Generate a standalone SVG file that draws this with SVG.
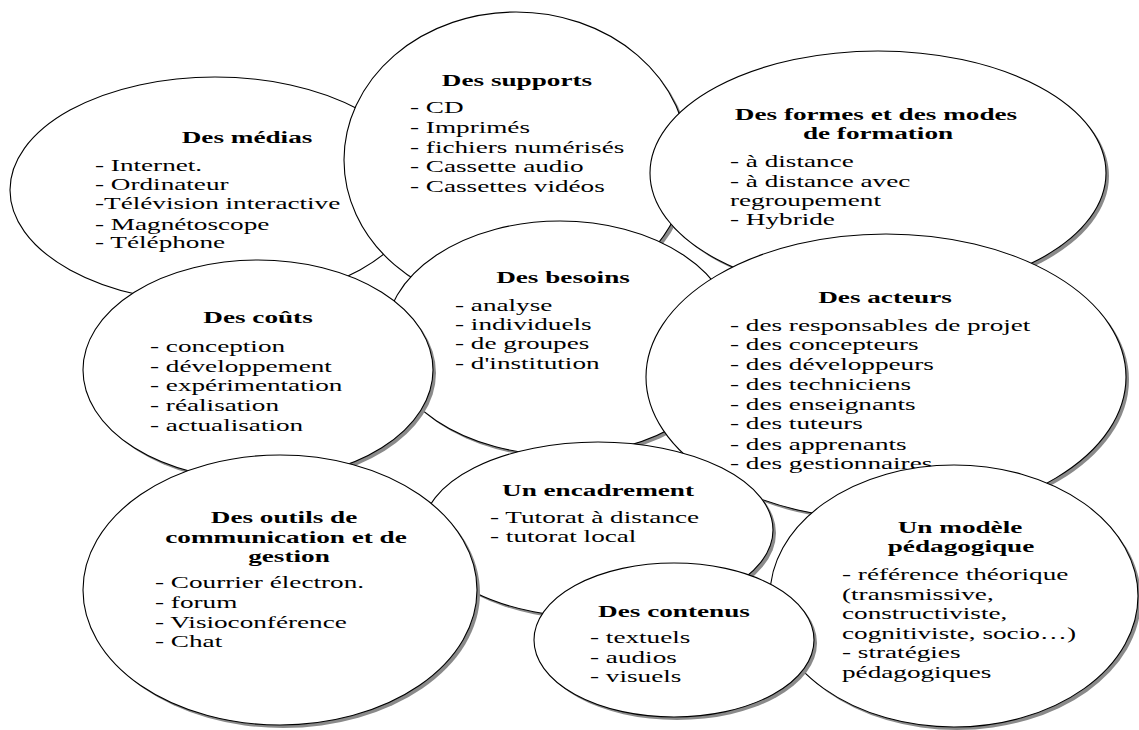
<svg xmlns="http://www.w3.org/2000/svg" width="1139" height="730" viewBox="0 0 1139 730">
<style>
.sh{fill:#8a8a8a;stroke:none}
.el{fill:#fff;stroke:#000;stroke-width:1.1}
.t{font-family:"Liberation Serif","Times New Roman",serif;font-size:16px;fill:#000}
.b{font-weight:bold}
.m{text-anchor:middle}
</style>
<rect width="1139" height="730" fill="#fff"/>
<g id="medias">
<ellipse class="el" cx="215" cy="190" rx="205" ry="113"/>
<text class="t b m" transform="translate(247,143) scale(1.7,1)">Des médias</text>
<text class="t" transform="translate(95,171) scale(1.7,1)">- Internet.</text>
<text class="t" transform="translate(95,190) scale(1.7,1)">- Ordinateur</text>
<text class="t" transform="translate(95,209) scale(1.7,1)">-Télévision interactive</text>
<text class="t" transform="translate(95,230) scale(1.7,1)">- Magnétoscope</text>
<text class="t" transform="translate(95,248) scale(1.7,1)">- Téléphone</text>
</g>
<g id="supports">
<ellipse class="sh" cx="519" cy="163" rx="172" ry="148"/>
<ellipse class="el" cx="516" cy="160" rx="172" ry="148"/>
<text class="t b m" transform="translate(517,86) scale(1.7,1)">Des supports</text>
<text class="t" transform="translate(410,113) scale(1.7,1)">- CD</text>
<text class="t" transform="translate(410,133) scale(1.7,1)">- Imprimés</text>
<text class="t" transform="translate(410,153) scale(1.7,1)">- fichiers numérisés</text>
<text class="t" transform="translate(410,172) scale(1.7,1)">- Cassette audio</text>
<text class="t" transform="translate(410,192) scale(1.7,1)">- Cassettes vidéos</text>
</g>
<g id="formes">
<ellipse class="sh" cx="881" cy="176" rx="228" ry="122"/>
<ellipse class="el" cx="878" cy="173" rx="228" ry="122"/>
<text class="t b m" transform="translate(876,120) scale(1.7,1)">Des formes et des modes</text>
<text class="t b m" transform="translate(878,139) scale(1.7,1)">de formation</text>
<text class="t" transform="translate(730,167) scale(1.7,1)">- à distance</text>
<text class="t" transform="translate(730,187) scale(1.7,1)">- à distance avec</text>
<text class="t" transform="translate(730,206) scale(1.7,1)">regroupement</text>
<text class="t" transform="translate(730,225) scale(1.7,1)">- Hybride</text>
</g>
<g id="besoins">
<ellipse class="sh" cx="563" cy="341" rx="175" ry="117"/>
<ellipse class="el" cx="560" cy="338" rx="175" ry="117"/>
<text class="t b m" transform="translate(563,283) scale(1.7,1)">Des besoins</text>
<text class="t" transform="translate(455,311) scale(1.7,1)">- analyse</text>
<text class="t" transform="translate(455,330) scale(1.7,1)">- individuels</text>
<text class="t" transform="translate(455,349) scale(1.7,1)">- de groupes</text>
<text class="t" transform="translate(455,369) scale(1.7,1)">- d'institution</text>
</g>
<g id="couts">
<ellipse class="sh" cx="261" cy="373" rx="175" ry="110"/>
<ellipse class="el" cx="258" cy="370" rx="175" ry="110"/>
<text class="t b m" transform="translate(258,323) scale(1.7,1)">Des coûts</text>
<text class="t" transform="translate(150,352) scale(1.7,1)">- conception</text>
<text class="t" transform="translate(150,372) scale(1.7,1)">- développement</text>
<text class="t" transform="translate(150,391) scale(1.7,1)">- expérimentation</text>
<text class="t" transform="translate(150,411) scale(1.7,1)">- réalisation</text>
<text class="t" transform="translate(150,431) scale(1.7,1)">- actualisation</text>
</g>
<g id="acteurs">
<ellipse class="sh" cx="889" cy="380" rx="240" ry="143"/>
<ellipse class="el" cx="886" cy="377" rx="240" ry="143"/>
<text class="t b m" transform="translate(885,303) scale(1.7,1)">Des acteurs</text>
<text class="t" transform="translate(730,331) scale(1.7,1)">- des responsables de projet</text>
<text class="t" transform="translate(730,350) scale(1.7,1)">- des concepteurs</text>
<text class="t" transform="translate(730,370) scale(1.7,1)">- des développeurs</text>
<text class="t" transform="translate(730,390) scale(1.7,1)">- des techniciens</text>
<text class="t" transform="translate(730,410) scale(1.7,1)">- des enseignants</text>
<text class="t" transform="translate(730,429) scale(1.7,1)">- des tuteurs</text>
<text class="t" transform="translate(730,450) scale(1.7,1)">- des apprenants</text>
<text class="t" transform="translate(730,469) scale(1.7,1)">- des gestionnaires</text>
</g>
<g id="encadrement">
<ellipse class="sh" cx="601" cy="533" rx="175" ry="88"/>
<ellipse class="el" cx="598" cy="530" rx="175" ry="88"/>
<text class="t b m" transform="translate(598,496) scale(1.7,1)">Un encadrement</text>
<text class="t" transform="translate(490,523) scale(1.7,1)">- Tutorat à distance</text>
<text class="t" transform="translate(490,542) scale(1.7,1)">- tutorat local</text>
</g>
<g id="outils">
<ellipse class="sh" cx="283" cy="593" rx="197" ry="135"/>
<ellipse class="el" cx="280" cy="590" rx="197" ry="135"/>
<text class="t b m" transform="translate(284,523) scale(1.7,1)">Des outils de</text>
<text class="t b m" transform="translate(286,543) scale(1.7,1)">communication et de</text>
<text class="t b m" transform="translate(289,562) scale(1.7,1)">gestion</text>
<text class="t" transform="translate(155,588) scale(1.7,1)">- Courrier électron.</text>
<text class="t" transform="translate(155,608) scale(1.7,1)">- forum</text>
<text class="t" transform="translate(155,628) scale(1.7,1)">- Visioconférence</text>
<text class="t" transform="translate(155,647) scale(1.7,1)">- Chat</text>
</g>
<g id="modele">
<ellipse class="sh" cx="957" cy="599" rx="184" ry="131"/>
<ellipse class="el" cx="954" cy="596" rx="184" ry="131"/>
<text class="t b m" transform="translate(960,533) scale(1.7,1)">Un modèle</text>
<text class="t b m" transform="translate(961,552) scale(1.7,1)">pédagogique</text>
<text class="t" transform="translate(842,580) scale(1.7,1)">- référence théorique</text>
<text class="t" transform="translate(842,600) scale(1.7,1)">(transmissive,</text>
<text class="t" transform="translate(842,619) scale(1.7,1)">constructiviste,</text>
<text class="t" transform="translate(842,639) scale(1.7,1)">cognitiviste, socio…)</text>
<text class="t" transform="translate(842,658) scale(1.7,1)">- stratégies</text>
<text class="t" transform="translate(842,678) scale(1.7,1)">pédagogiques</text>
</g>
<g id="contenus">
<ellipse class="sh" cx="677" cy="643" rx="140" ry="77"/>
<ellipse class="el" cx="674" cy="640" rx="140" ry="77"/>
<text class="t b m" transform="translate(674,617) scale(1.7,1)">Des contenus</text>
<text class="t" transform="translate(590,643) scale(1.7,1)">- textuels</text>
<text class="t" transform="translate(590,663) scale(1.7,1)">- audios</text>
<text class="t" transform="translate(590,682) scale(1.7,1)">- visuels</text>
</g>
<g id="connectors"></g>
</svg>
